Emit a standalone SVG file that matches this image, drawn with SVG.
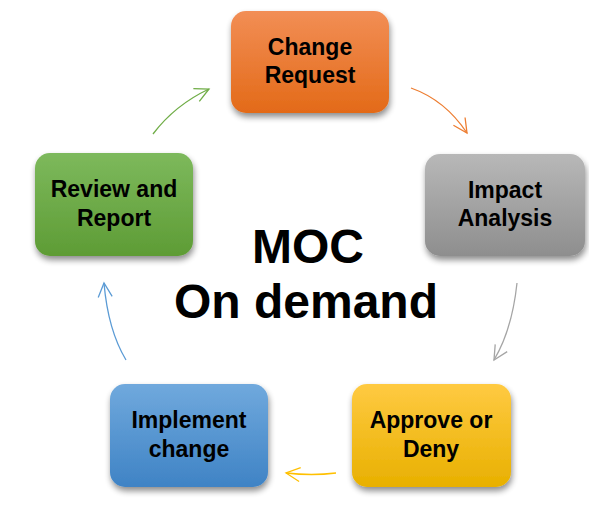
<svg xmlns="http://www.w3.org/2000/svg" width="589" height="505" viewBox="0 0 589 505">
<style>
.lbl{font-family:"Liberation Sans",Arial,sans-serif;font-weight:bold;font-size:23px;fill:#000;text-anchor:middle}
.big{font-family:"Liberation Sans",Arial,sans-serif;font-weight:bold;font-size:48px;fill:#000;text-anchor:middle}
.box{filter:url(#sh)}
.c{fill:none;stroke-width:1.3}
</style>
<defs>
<filter id="sh" x="-20%" y="-20%" width="140%" height="150%">
<feGaussianBlur in="SourceAlpha" stdDeviation="3"/>
<feOffset dx="1" dy="4" result="b"/>
<feComponentTransfer><feFuncA type="linear" slope="0.45"/></feComponentTransfer>
<feMerge><feMergeNode/><feMergeNode in="SourceGraphic"/></feMerge>
</filter>
<linearGradient id="gO" x1="0" y1="0" x2="0" y2="1"><stop offset="0" stop-color="#F28E55"/><stop offset="1" stop-color="#E36A18"/></linearGradient>
<linearGradient id="gG" x1="0" y1="0" x2="0" y2="1"><stop offset="0" stop-color="#7DB95C"/><stop offset="1" stop-color="#5E9C35"/></linearGradient>
<linearGradient id="gA" x1="0" y1="0" x2="0" y2="1"><stop offset="0" stop-color="#B8B8B8"/><stop offset="1" stop-color="#8E8E8E"/></linearGradient>
<linearGradient id="gY" x1="0" y1="0" x2="0" y2="1"><stop offset="0" stop-color="#FFCA42"/><stop offset="1" stop-color="#E8B000"/></linearGradient>
<linearGradient id="gB" x1="0" y1="0" x2="0" y2="1"><stop offset="0" stop-color="#70A9DD"/><stop offset="1" stop-color="#3F83C5"/></linearGradient>
<marker id="mO" markerUnits="userSpaceOnUse" markerWidth="20" markerHeight="20" viewBox="-16 -10 20 20" refX="0" refY="0" orient="auto"><path d="M-14,-7 L0,0 L-14,7" fill="none" stroke="#ED7D31" stroke-width="1.3"/></marker>
<marker id="mA" markerUnits="userSpaceOnUse" markerWidth="20" markerHeight="20" viewBox="-16 -10 20 20" refX="0" refY="0" orient="auto"><path d="M-14,-7 L0,0 L-14,7" fill="none" stroke="#A5A5A5" stroke-width="1.3"/></marker>
<marker id="mY" markerUnits="userSpaceOnUse" markerWidth="20" markerHeight="20" viewBox="-16 -10 20 20" refX="0" refY="0" orient="auto"><path d="M-14,-7 L0,0 L-14,7" fill="none" stroke="#FFC000" stroke-width="1.3"/></marker>
<marker id="mB" markerUnits="userSpaceOnUse" markerWidth="20" markerHeight="20" viewBox="-16 -10 20 20" refX="0" refY="0" orient="auto"><path d="M-14,-7 L0,0 L-14,7" fill="none" stroke="#5B9BD5" stroke-width="1.3"/></marker>
<marker id="mG" markerUnits="userSpaceOnUse" markerWidth="20" markerHeight="20" viewBox="-16 -10 20 20" refX="0" refY="0" orient="auto"><path d="M-14,-7 L0,0 L-14,7" fill="none" stroke="#70AD47" stroke-width="1.3"/></marker>
</defs>
<rect width="589" height="505" fill="#fff"/>
<g id="connectors">
<path class="c" d="M411,88 Q445,100 467,133" stroke="#ED7D31" marker-end="url(#mO)"/>
<path class="c" d="M517,283 Q512,330 494,360" stroke="#A5A5A5" marker-end="url(#mA)"/>
<path class="c" d="M336,473 Q312,476 286,473" stroke="#FFC000" marker-end="url(#mY)"/>
<path class="c" d="M126,360 Q108,330 104,283" stroke="#5B9BD5" marker-end="url(#mB)"/>
<path class="c" d="M153,134 Q175,105 209,89" stroke="#70AD47" marker-end="url(#mG)"/>
</g>
<g id="change-request">
<rect class="box" x="231" y="11" width="158" height="102" rx="15" fill="url(#gO)"/>
<text class="lbl" x="310" y="55">Change</text>
<text class="lbl" x="310" y="83">Request</text>
</g>
<g id="impact-analysis">
<rect class="box" x="425" y="154" width="160" height="102" rx="15" fill="url(#gA)"/>
<text class="lbl" x="505" y="198">Impact</text>
<text class="lbl" x="505" y="226">Analysis</text>
</g>
<g id="approve-or-deny">
<rect class="box" x="352" y="384" width="159" height="103" rx="15" fill="url(#gY)"/>
<text class="lbl" x="431" y="428">Approve or</text>
<text class="lbl" x="431" y="457">Deny</text>
</g>
<g id="implement-change">
<rect class="box" x="110" y="384" width="158" height="103" rx="15" fill="url(#gB)"/>
<text class="lbl" x="189" y="428">Implement</text>
<text class="lbl" x="189" y="457">change</text>
</g>
<g id="review-and-report">
<rect class="box" x="35" y="153" width="158" height="103" rx="15" fill="url(#gG)"/>
<text class="lbl" x="114" y="197">Review and</text>
<text class="lbl" x="114" y="226">Report</text>
</g>
<g id="title">
<text class="big" x="308" y="263">MOC</text>
<text class="big" x="306" y="318">On demand</text>
</g>
</svg>
